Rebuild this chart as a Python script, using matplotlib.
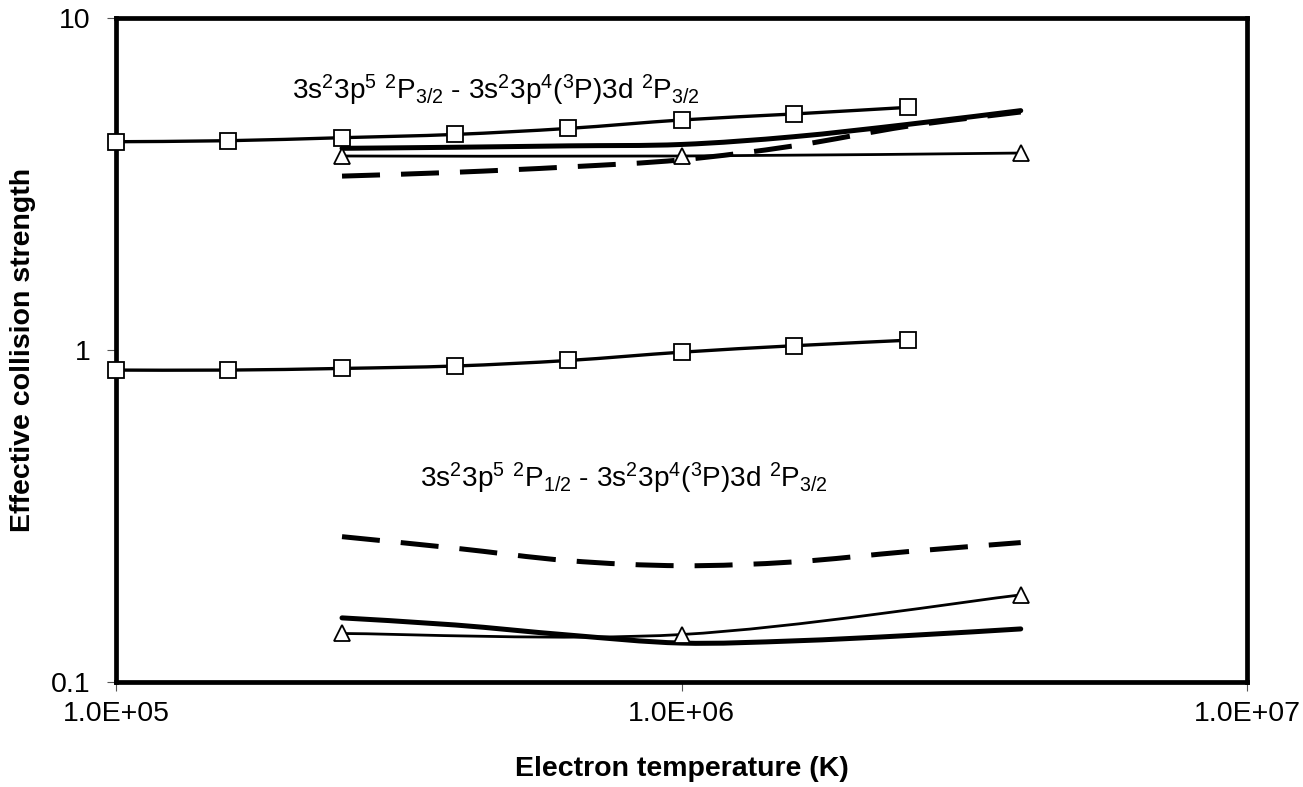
import numpy as np
import matplotlib
matplotlib.use('Agg')
import matplotlib.pyplot as plt
from matplotlib.path import Path
from matplotlib.patches import PathPatch
from matplotlib.ticker import NullLocator, FixedLocator, FixedFormatter

plt.rcParams['font.family'] = ['Liberation Sans', 'DejaVu Sans']
plt.rcParams['mathtext.fontset'] = 'custom'
plt.rcParams['mathtext.rm'] = 'Liberation Sans'
plt.rcParams['mathtext.it'] = 'Liberation Sans'
plt.rcParams['mathtext.bf'] = 'Liberation Sans:bold'
plt.rcParams['mathtext.default'] = 'regular'

# ---------------- data ----------------
T_squares = [1.0e5, 1.58e5, 2.51e5, 3.98e5, 6.31e5, 1.0e6, 1.58e6, 2.51e6]
squares_upper = [4.24, 4.27, 4.36, 4.46, 4.65, 4.93, 5.14, 5.38]
squares_lower = [0.87, 0.87, 0.88, 0.895, 0.93, 0.985, 1.03, 1.07]

T_curves = [2.51e5, 3.98e5, 6.31e5, 1.0e6, 1.58e6, 2.51e6, 3.98e6]
solid_upper = [4.05, 4.08, 4.12, 4.16, 4.39, 4.78, 5.26]
dashed_upper = [3.34, 3.43, 3.56, 3.74, 4.12, 4.72, 5.21]
solid_lower = [0.156, 0.1485, 0.1385, 0.131, 0.133, 0.138, 0.1445]
dashed_lower = [0.274, 0.253, 0.232, 0.224, 0.230, 0.247, 0.263]

T_triangles = [2.51e5, 1.0e6, 3.98e6]
triangles_upper = [3.84, 3.84, 3.92]
triangles_lower = [0.140, 0.139, 0.183]

x_ticks = [1e5, 1e6, 1e7]
x_ticklabels = ['1.0E+05', '1.0E+06', '1.0E+07']
y_ticks = [0.1, 1, 10]
y_ticklabels = ['0.1', '1', '10']

label_upper = r'$3s^{2}3p^{5}\ ^{2}P_{3/2}$ - $3s^{2}3p^{4}(^{3}P)3d\ ^{2}P_{3/2}$'
label_lower = r'$3s^{2}3p^{5}\ ^{2}P_{1/2}$ - $3s^{2}3p^{4}(^{3}P)3d\ ^{2}P_{3/2}$'

# ---------------- figure ----------------
W, H = 1303, 787
fig = plt.figure(figsize=(W / 100, H / 100), dpi=100)
L, R, Tp, B = 116, 1247, 18, 682
ax = fig.add_axes([L / W, 1 - B / H, (R - L) / W, (B - Tp) / H])
ax.set_xscale('log')
ax.set_yscale('log')
ax.set_xlim(1e5, 1e7)
ax.set_ylim(0.1, 10)


def smooth_path(x, y):
    """Excel-like smoothed line: Catmull-Rom Bezier segments in log-log space."""
    lx = np.log10(np.asarray(x, float))
    ly = np.log10(np.asarray(y, float))
    n = len(lx)
    verts = [(lx[0], ly[0])]
    codes = [Path.MOVETO]
    for i in range(n - 1):
        i0 = max(i - 1, 0)
        i3 = min(i + 2, n - 1)
        c1 = (lx[i] + (lx[i + 1] - lx[i0]) / 6, ly[i] + (ly[i + 1] - ly[i0]) / 6)
        c2 = (lx[i + 1] - (lx[i3] - lx[i]) / 6, ly[i + 1] - (ly[i3] - ly[i]) / 6)
        verts += [c1, c2, (lx[i + 1], ly[i + 1])]
        codes += [Path.CURVE4] * 3
    return Path(10 ** np.array(verts), codes)


def add_line(x, y, lw, dashed=False, z=2):
    p = PathPatch(smooth_path(x, y), fill=False, edgecolor='black', lw=lw,
                  transform=ax.transData, zorder=z)
    if dashed:
        p.set_linestyle((0, (7.6, 4.2)))
        p.set_capstyle('butt')
    else:
        p.set_capstyle('round')
    p.set_joinstyle('round')
    ax.add_patch(p)


# square series
for vals in (squares_upper, squares_lower):
    add_line(T_squares, vals, 2.4)
    ax.plot(T_squares, vals, ls='none', marker='s', ms=12, mfc='white',
            mec='black', mew=1.3, zorder=5, clip_on=False)

# triangle series
for vals in (triangles_upper, triangles_lower):
    add_line(T_triangles, vals, 2.0)
    ax.plot(T_triangles, vals, ls='none', marker='^', ms=12, mfc='white',
            mec='black', mew=1.3, zorder=4, clip_on=False)

# thick solid & dashed curves
add_line(T_curves, solid_upper, 3.6, z=3)
add_line(T_curves, solid_lower, 3.6, z=3)
add_line(T_curves, dashed_upper, 3.6, dashed=True, z=3)
add_line(T_curves, dashed_lower, 3.6, dashed=True, z=3)

# axes styling
for s in ax.spines.values():
    s.set_linewidth(3.4)
    s.set_color('black')
ax.xaxis.set_major_locator(FixedLocator(x_ticks))
ax.xaxis.set_major_formatter(FixedFormatter(x_ticklabels))
ax.yaxis.set_major_locator(FixedLocator(y_ticks))
ax.yaxis.set_major_formatter(FixedFormatter(y_ticklabels))
ax.xaxis.set_minor_locator(NullLocator())
ax.yaxis.set_minor_locator(NullLocator())
ax.tick_params(which='major', direction='out', length=6.5, width=0.8,
               color='#555555', labelsize=20.5)
ax.tick_params(axis='y', pad=12)
ax.tick_params(axis='x', pad=7)

ax.set_xlabel('Electron temperature (K)', fontsize=20.5, fontweight='bold', va='center')
ax.xaxis.set_label_coords(0.5, -(769 - B) / (B - Tp))
ax.set_ylabel('Effective collision strength', fontsize=20.5, fontweight='bold', va='center')
ax.yaxis.set_label_coords((23 - L) / (R - L), 0.5)

ax.text((292 - L) / (R - L), (B - 99) / (B - Tp), label_upper, transform=ax.transAxes,
        fontsize=20.2, ha='left', va='baseline')
ax.text((420 - L) / (R - L), (B - 487) / (B - Tp), label_lower, transform=ax.transAxes,
        fontsize=20.2, ha='left', va='baseline')

fig.savefig('out.png', dpi=100)
